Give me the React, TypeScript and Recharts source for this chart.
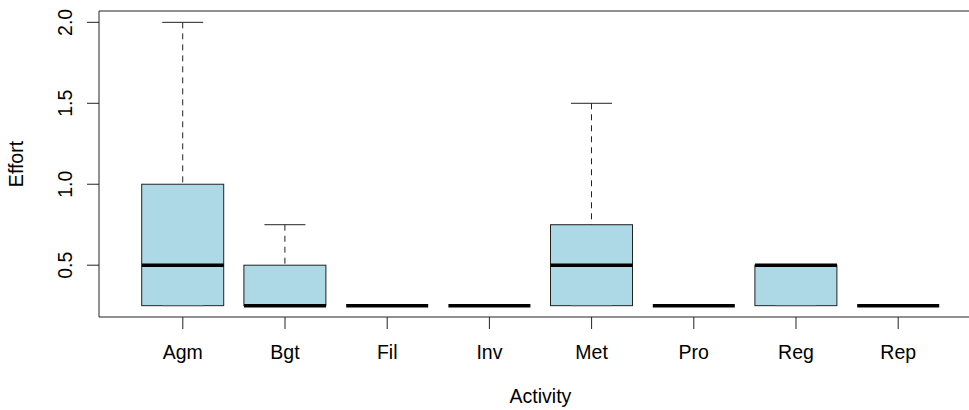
import React from 'react';
import { ComposedChart, Bar, Scatter, XAxis, YAxis, ReferenceArea, Label } from 'recharts';

const categories = ['Agm', 'Bgt', 'Fil', 'Inv', 'Met', 'Pro', 'Reg', 'Rep'];
const mins = [0.25, 0.25, 0.25, 0.25, 0.25, 0.25, 0.25, 0.25];
const lowerQuartiles = [0.25, 0.25, 0.25, 0.25, 0.25, 0.25, 0.25, 0.25];
const medians = [0.5, 0.25, 0.25, 0.25, 0.5, 0.25, 0.5, 0.25];
const upperQuartiles = [1.0, 0.5, 0.25, 0.25, 0.75, 0.25, 0.5, 0.25];
const maxs = [2.0, 0.75, 0.25, 0.25, 1.5, 0.25, 0.5, 0.25];
const yTicks = [0.5, 1.0, 1.5, 2.0];

const FONT = '"Liberation Sans", Arial, Helvetica, sans-serif';
const FS = 19.5;
const INK = '#222';
const FILL = '#ADD8E6';
const BOX_W = 82;

const data = categories.map((name, i) => ({
  x: i + 1,
  name,
  box: [lowerQuartiles[i], upperQuartiles[i]],
  upper: [upperQuartiles[i], maxs[i]],
  med: medians[i],
  min: mins[i],
}));

// R style axis limits: data range padded by 4%
const lo = Math.min(...mins);
const hi = Math.max(...maxs);
const yPad = (hi - lo) * 0.04;
const yDomain = [lo - yPad, hi + yPad];
const xPad = categories.length * 0.04;
const xDomain = [0.5 - xPad, categories.length + 0.5 + xPad];

const BoxShape = (props: any) => {
  const { x, y, width, height } = props;
  const top = Math.min(y, y + height);
  const h = Math.abs(height);
  return <rect x={x} y={top} width={width} height={h} fill={FILL} stroke={INK} strokeWidth={1} />;
};

const WhiskerShape = (props: any) => {
  const { x, y, width, height } = props;
  const top = Math.min(y, y + height);
  const bottom = Math.max(y, y + height);
  const cx = x + width / 2;
  const half = width / 4;
  return (
    <g>
      {bottom - top > 0 && (
        <line x1={cx} x2={cx} y1={top} y2={bottom} stroke={INK} strokeWidth={1} strokeDasharray="6 5" />
      )}
      <line x1={cx - half} x2={cx + half} y1={top} y2={top} stroke={INK} strokeWidth={1} />
    </g>
  );
};

const MedianShape = (props: any) => {
  const { cx, cy } = props;
  return <line x1={cx - BOX_W / 2} x2={cx + BOX_W / 2} y1={cy} y2={cy} stroke="#000" strokeWidth={3.5} />;
};

const StapleShape = (props: any) => {
  const { cx, cy } = props;
  return <line x1={cx - BOX_W / 4} x2={cx + BOX_W / 4} y1={cy} y2={cy} stroke="#666" strokeWidth={1} />;
};

const YTick = (props: any) => {
  const { x, y, payload } = props;
  return (
    <text
      x={x}
      y={y}
      transform={`rotate(-90 ${x} ${y})`}
      textAnchor="middle"
      fontSize={FS}
      fontFamily={FONT}
      fill="#000"
    >
      {Number(payload.value).toFixed(1)}
    </text>
  );
};

export default function App() {
  return (
    <div style={{ width: 969, height: 410, overflow: 'hidden', background: '#fff' }}>
      <style>{'body{margin:0}'}</style>
      <ComposedChart width={1000} height={410} data={data} margin={{ top: 11, right: 18, left: 39, bottom: 0 }}>
        <XAxis
          dataKey="x"
          type="number"
          domain={xDomain}
          ticks={data.map((d) => d.x)}
          tickFormatter={(v: number) => categories[v - 1]}
          tickSize={12}
          tickMargin={16}
          tickLine={{ stroke: INK }}
          axisLine={false}
          tick={{ fontSize: FS, fill: '#000', fontFamily: FONT }}
          height={93}
          interval={0}
        >
          <Label
            content={(p: any) => (
              <text
                x={p.viewBox.x + p.viewBox.width / 2}
                y={p.viewBox.y + 86}
                textAnchor="middle"
                fontSize={FS}
                fontFamily={FONT}
                fill="#000"
              >
                Activity
              </text>
            )}
          />
        </XAxis>
        <XAxis xAxisId="box" dataKey="x" type="number" domain={xDomain} hide />
        <XAxis xAxisId="wh" dataKey="x" type="number" domain={xDomain} hide />
        <YAxis
          type="number"
          domain={yDomain}
          ticks={yTicks}
          width={60}
          tickSize={12}
          tickMargin={15}
          tickLine={{ stroke: INK }}
          axisLine={false}
          tick={<YTick />}
          allowDataOverflow
        >
          <Label
            content={(p: any) => {
              const lx = p.viewBox.x - 16;
              const ly = p.viewBox.y + p.viewBox.height / 2;
              return (
                <text
                  x={lx}
                  y={ly}
                  transform={`rotate(-90 ${lx} ${ly})`}
                  textAnchor="middle"
                  fontSize={FS}
                  fontFamily={FONT}
                  fill="#000"
                >
                  Effort
                </text>
              );
            }}
          />
        </YAxis>
        <ReferenceArea
          x1={xDomain[0]}
          x2={xDomain[1]}
          y1={yDomain[0]}
          y2={yDomain[1]}
          fill="none"
          fillOpacity={0}
          stroke={INK}
          strokeWidth={1}
          ifOverflow="visible"
        />
        <Bar xAxisId="wh" dataKey="upper" barSize={BOX_W} shape={<WhiskerShape />} isAnimationActive={false} />
        <Bar xAxisId="box" dataKey="box" barSize={BOX_W} shape={<BoxShape />} isAnimationActive={false} />
        <Scatter dataKey="min" shape={<StapleShape />} isAnimationActive={false} />
        <Scatter dataKey="med" shape={<MedianShape />} isAnimationActive={false} />
      </ComposedChart>
    </div>
  );
}
